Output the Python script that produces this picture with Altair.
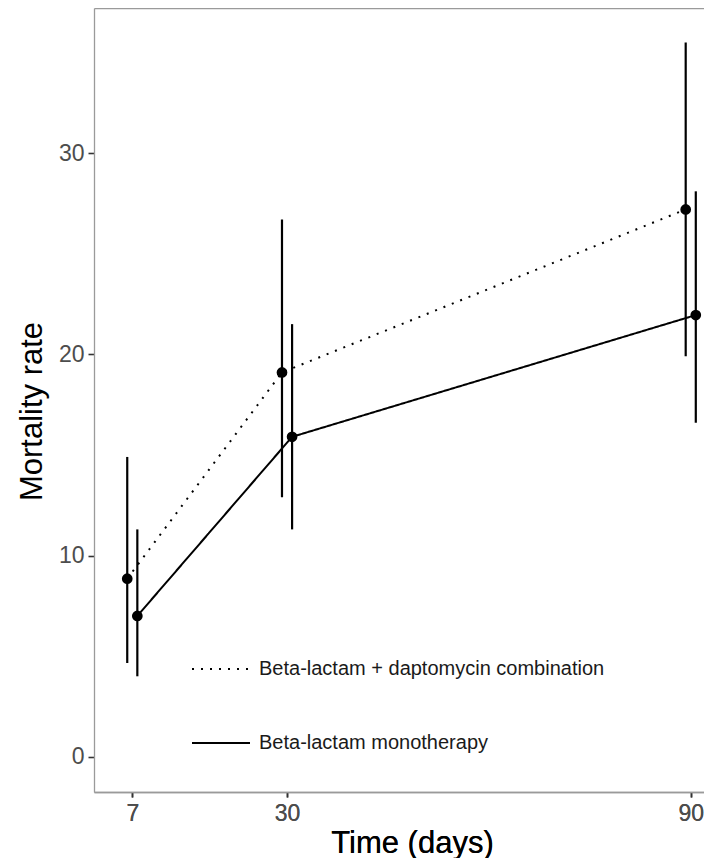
import altair as alt
import pandas as pd

# ---- data ----
days = [7, 30, 90]
groups = ["Beta-lactam + daptomycin combination", "Beta-lactam monotherapy"]
combo_rate = [8.85, 19.1, 27.2]
combo_lo = [4.66, 12.9, 19.9]
combo_hi = [14.9, 26.7, 35.5]
mono_rate = [7.0, 15.9, 21.95]
mono_lo = [4.0, 11.3, 16.6]
mono_hi = [11.3, 21.5, 28.1]

x_ticks = [7, 30, 90]
y_ticks = [0, 10, 20, 30]
dodge = 0.75

rows = []
for i, d in enumerate(days):
    rows.append({"day": d, "group": groups[0], "rate": combo_rate[i], "lo": combo_lo[i], "hi": combo_hi[i], "side": -1})
    rows.append({"day": d, "group": groups[1], "rate": mono_rate[i], "lo": mono_lo[i], "hi": mono_hi[i], "side": 1})
df = pd.DataFrame(rows)

FONT = "Liberation Sans"

base = alt.Chart(df).transform_calculate(
    xpos=f"datum.day + datum.side * {dodge}"
)

x_scale = alt.Scale(domain=[1.31, 91.97], nice=False, zero=False)
y_scale = alt.Scale(domain=[-1.75, 37.21], nice=False, zero=False)

x_axis = alt.Axis(
    values=x_ticks, title="Time (days)", orient="bottom",
    titleX=318, titleY=60, titleBaseline="alphabetic", titleAlign="center",
    tickSize=5, labelPadding=5,
)
top_axis = alt.Axis(orient="top", labels=False, ticks=False, title=None,
                    domain=True, grid=False)
y_axis = alt.Axis(
    values=y_ticks, title="Mortality rate",
    titleX=-53, titleY=403, titleBaseline="alphabetic", titleAlign="center",
    tickSize=6, labelPadding=4,
)

bars = base.mark_rule(color="black", strokeWidth=2.2).encode(
    x=alt.X("xpos:Q", scale=x_scale, axis=x_axis),
    y=alt.Y("lo:Q", scale=y_scale, axis=y_axis),
    y2="hi:Q",
)

lines = base.mark_line(color="black", strokeWidth=2, strokeCap="butt").encode(
    x=alt.X("xpos:Q", scale=x_scale, axis=top_axis),
    y=alt.Y("rate:Q", scale=y_scale, axis=y_axis),
    strokeDash=alt.StrokeDash(
        "group:N",
        scale=alt.Scale(domain=groups, range=[[2, 7], [1, 0]]),
        legend=alt.Legend(
            title=None, orient="none", legendX=97, legendY=631,
            symbolType="stroke", symbolSize=3364, symbolStrokeColor="black",
            symbolStrokeWidth=2, labelFontSize=20, labelFont=FONT,
            labelColor="#1a1a1a", labelOffset=8, rowPadding=34, padding=0,
            labelLimit=600,
        ),
    ),
    detail="group:N",
)

points = base.mark_point(filled=True, color="black", size=115, opacity=1).encode(
    x=alt.X("xpos:Q", scale=x_scale, axis=x_axis),
    y=alt.Y("rate:Q", scale=y_scale, axis=y_axis),
)

chart = alt.layer(bars, lines, points).properties(
    width=610, height=784,
    autosize=alt.AutoSizeParams(type="none"),
    padding={"left": 86, "top": 0, "right": 0, "bottom": 66},
).configure_view(stroke=None).configure_axis(
    grid=False,
    domainColor="#9a9a9a", domainWidth=1.3,
    tickColor="#333333", tickWidth=1.6,
    labelFont=FONT, labelFontSize=23, labelColor="#4d4d4d",
    titleFont=FONT, titleFontSize=31, titleColor="#000000", titleFontWeight="normal",
)

chart.save("out.html", embed_options={"renderer": "svg", "actions": False})
